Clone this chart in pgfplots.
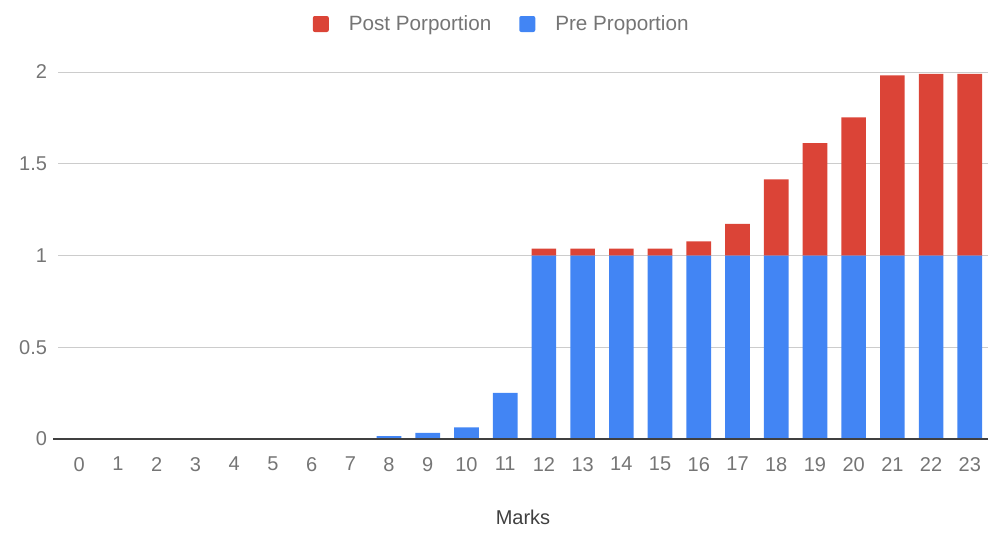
\documentclass[border=0pt]{standalone}
\usepackage{fontspec}
\setmainfont{Liberation Sans}
\usepackage{pgfplots}
\pgfplotsset{compat=1.18}

\definecolor{postred}{HTML}{DB4437}
\definecolor{preblue}{HTML}{4285F4}
\definecolor{gridgrey}{HTML}{CCCCCC}
\definecolor{txtgrey}{HTML}{757575}

\begin{document}
\begin{tikzpicture}
\path[use as bounding box] (0,0) rectangle (741.75pt,399pt);
\begin{axis}[
    at={(43.5pt,69.75pt)}, anchor=south west,
    scale only axis,
    width=697.5pt, height=275.25pt,
    ybar stacked,
    bar width=18.5pt,
    xmin=-0.55, xmax=23.47,
    ymin=0, ymax=2,
    xtick={0,...,23},
    ytick={0,0.5,1,1.5,2},
    ymajorgrids,
    grid style={gridgrey, line width=0.75pt},
    axis line style={draw=none},
    major tick length=0pt,
    /pgf/number format/assume math mode=true,
    tick label style={font=\fontsize{15}{18}\selectfont, text=txtgrey},
    xticklabel style={yshift=-10pt},
    yticklabel style={xshift=-4.75pt},
    xlabel={Marks},
    xlabel style={at={(axis description cs:0.5,0)}, anchor=center, yshift=-59pt,
        font=\fontsize{15}{18}\selectfont, text=black!75},
    reverse legend,
    legend columns=2,
    legend style={at={(axis description cs:0.476,1)}, anchor=center, yshift=36pt,
        draw=none, fill=none, font=\fontsize{15.5}{18}\selectfont, text=txtgrey,
        nodes={inner sep=0pt},
        /tikz/every odd column/.append style={column sep=15pt},
        /tikz/every even column/.append style={column sep=21pt}},
    after end axis/.code={
        \draw[black!75, line width=1.1pt] (rel axis cs:-0.005,0) -- (rel axis cs:1,0);
    },
]
\addplot[fill=preblue, draw=none,
    legend image code/.code={\fill[preblue, rounded corners=1.5pt] (0pt,-6pt) rectangle (12pt,6pt);}]
coordinates {
    (0,0) (1,0) (2,0) (3,0) (4,0) (5,0) (6,0) (7,0)
    (8,0.015) (9,0.034) (10,0.063) (11,0.252)
    (12,1) (13,1) (14,1) (15,1) (16,1) (17,1)
    (18,1) (19,1) (20,1) (21,1) (22,1) (23,1)
};
\addplot[fill=postred, draw=none,
    legend image code/.code={\fill[postred, rounded corners=1.5pt] (0pt,-6pt) rectangle (12pt,6pt);}]
coordinates {
    (0,0) (1,0) (2,0) (3,0) (4,0) (5,0) (6,0) (7,0)
    (8,0) (9,0) (10,0) (11,0)
    (12,0.038) (13,0.038) (14,0.038) (15,0.038) (16,0.077) (17,0.172)
    (18,0.415) (19,0.612) (20,0.753) (21,0.982) (22,0.99) (23,0.99)
};
\legend{Pre Proportion, Post Porportion}
\end{axis}
\end{tikzpicture}
\end{document}
